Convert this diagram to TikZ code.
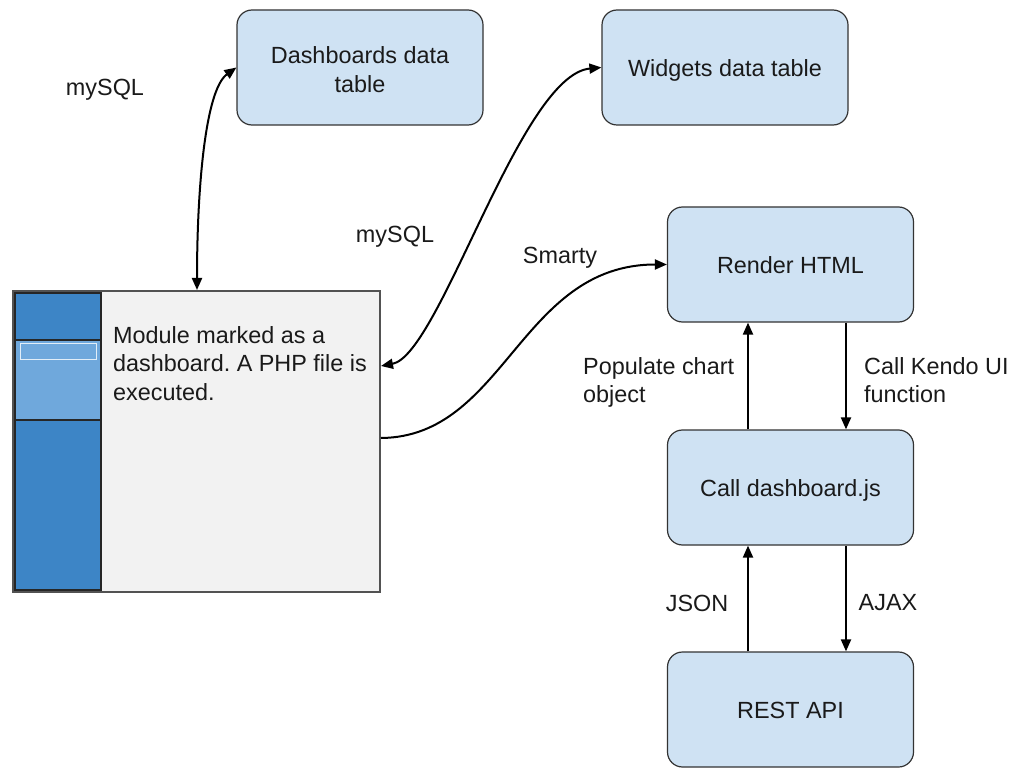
\documentclass[tikz,border=0pt]{standalone}
\usepackage{fontspec}
\setmainfont{Liberation Sans}
\usetikzlibrary{arrows.meta}
\definecolor{boxfill}{HTML}{CFE2F3}
\definecolor{boxline}{HTML}{333333}
\definecolor{panel}{HTML}{F2F2F2}
\definecolor{darkblue}{HTML}{3D85C6}
\definecolor{lightblue}{HTML}{6FA8DC}
\definecolor{textcol}{HTML}{1A1A1A}
\frenchspacing
\tikzset{
  tbl/.style={draw=boxline, line width=1.2pt, fill=boxfill, rounded corners=15pt,
    minimum width=246pt, minimum height=115pt, align=center, text=textcol,
    font=\fontsize{23.4}{28.5}\selectfont},
  oneline/.style={text height=21.5pt, text depth=4pt},
  lbl/.style={text=textcol, font=\fontsize{23.4}{28.5}\selectfont, inner sep=0pt},
  arr/.style={line width=2pt, -{Triangle[length=12pt,width=10pt]}},
  dbl/.style={line width=2pt, {Triangle[length=12pt,width=10pt]}-{Triangle[length=12pt,width=10pt]}}
}
\begin{document}
\begin{tikzpicture}[x=1pt,y=-1pt]
\useasboundingbox (0,0) rectangle (1018,770);

% data tables
\node[tbl] (dash) at (360,67.5) {\rule{0pt}{21.5pt}Dashboards data\\table};
\node[tbl, oneline] (widg) at (725,67.5) {Widgets data table};

% client-side chain
\node[tbl, oneline] (render) at (790.5,264.5) {Render HTML};
\node[tbl, oneline] (calljs) at (790.5,487.5) {Call dashboard.js};
\node[tbl, oneline] (rest) at (790.5,709.5) {REST API};

% module panel
\node[draw=boxline!85, line width=2pt, fill=panel, anchor=north west,
      minimum width=367pt, minimum height=301pt, inner sep=0pt] (mod) at (12,290) {};
\fill[darkblue] (15,293) rectangle (101,590);
\fill[lightblue] (15,340) rectangle (101,420);
\draw[black!85, line width=1.2pt] (15,293) rectangle (101,590);
\draw[black!85, line width=1.2pt] (15,340) -- (101,340);
\draw[black!85, line width=1.2pt] (15,420) -- (101,420);
\draw[white!80!lightblue, line width=1pt] (20,343) rectangle (96,359);
\node[lbl, align=left, anchor=north west] (modtxt) at (113,326)
  {Module marked as a\\dashboard. A PHP file is\\executed.};

% connectors
\draw[dbl] ([xshift=185pt]mod.north west) .. controls (197,190) and (205,90) .. (dash.west);
\draw[dbl] ([yshift=75.5pt]mod.east) .. controls (440,355) and (520,75) .. (widg.west);
\draw[arr] ([yshift=3.5pt]mod.east) .. controls (505,437) and (520,264.5) .. (render.west);

\draw[arr] ([xshift=-42.5pt]calljs.north) -- ([xshift=-42.5pt]render.south);
\draw[arr] ([xshift=55.5pt]render.south) -- ([xshift=55.5pt]calljs.north);
\draw[arr] ([xshift=-42.5pt]rest.north) -- ([xshift=-42.5pt]calljs.south);
\draw[arr] ([xshift=55.5pt]calljs.south) -- ([xshift=55.5pt]rest.north);

% connector labels
\node[lbl] (l1) at (105,89.5) {mySQL};
\node[lbl] (l2) at (395,236.5) {mySQL};
\node[lbl] (l3) at (560,257.5) {Smarty};
\node[lbl, align=left, anchor=west] (l4) at (583,382.5) {Populate chart\\object};
\node[lbl, align=left, anchor=west] (l5) at (864,380) {Call Kendo UI\\function};
\node[lbl] (l6) at (697,603) {JSON};
\node[lbl] (l7) at (888,603) {AJAX};
\end{tikzpicture}
\end{document}
